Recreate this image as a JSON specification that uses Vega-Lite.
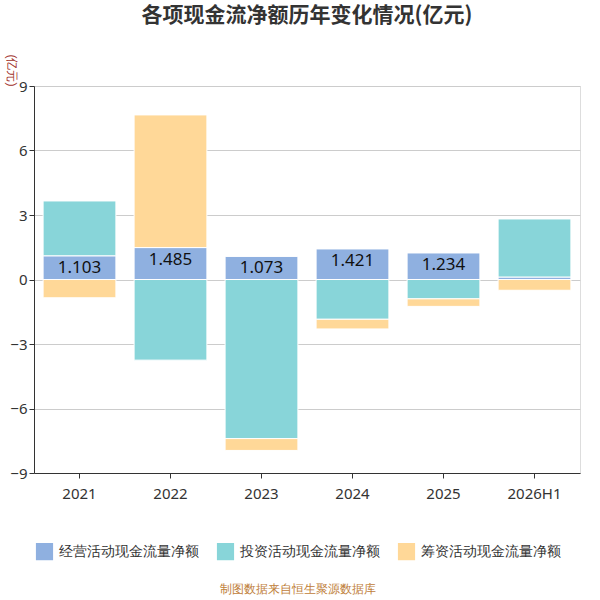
{
"$schema":"https://vega.github.io/schema/vega-lite/v6.json",
"width":600,"height":600,
"autosize":{"type":"fit","contains":"padding"},
"padding":{"top":5,"left":5,"right":20,"bottom":5},
"title":{"text":"各项现金流净额历年变化情况(亿元)","fontSize":21,"font":"Noto Sans CJK SC","fontWeight":"bold","color":"#333","offset":28},
"data":{"values":[
{"year":"2021","type":"经营活动现金流量净额","o":1,"v":1.103,"lab":"1.103"},
{"year":"2021","type":"投资活动现金流量净额","o":2,"v":2.55},
{"year":"2021","type":"筹资活动现金流量净额","o":3,"v":-0.85},
{"year":"2022","type":"经营活动现金流量净额","o":1,"v":1.485,"lab":"1.485"},
{"year":"2022","type":"投资活动现金流量净额","o":2,"v":-3.75},
{"year":"2022","type":"筹资活动现金流量净额","o":3,"v":6.17},
{"year":"2023","type":"经营活动现金流量净额","o":1,"v":1.073,"lab":"1.073"},
{"year":"2023","type":"投资活动现金流量净额","o":2,"v":-7.4},
{"year":"2023","type":"筹资活动现金流量净额","o":3,"v":-0.55},
{"year":"2024","type":"经营活动现金流量净额","o":1,"v":1.421,"lab":"1.421"},
{"year":"2024","type":"投资活动现金流量净额","o":2,"v":-1.85},
{"year":"2024","type":"筹资活动现金流量净额","o":3,"v":-0.45},
{"year":"2025","type":"经营活动现金流量净额","o":1,"v":1.234,"lab":"1.234"},
{"year":"2025","type":"投资活动现金流量净额","o":2,"v":-0.9},
{"year":"2025","type":"筹资活动现金流量净额","o":3,"v":-0.35},
{"year":"2026H1","type":"经营活动现金流量净额","o":1,"v":0.116},
{"year":"2026H1","type":"投资活动现金流量净额","o":2,"v":2.7},
{"year":"2026H1","type":"筹资活动现金流量净额","o":3,"v":-0.5}
]},
"encoding":{
"x":{"field":"year","type":"nominal","scale":{"paddingInner":0.2,"paddingOuter":0.1},"axis":{"title":null,"labelAngle":0,"labelFontSize":15,"labelColor":"#333","labelFont":"Noto Sans","domainColor":"#333","tickColor":"#333","labelPadding":8}},
"y":{"field":"v","type":"quantitative","stack":"zero","scale":{"domain":[-9,9]},"axis":{"values":[-9,-6,-3,0,3,6,9],"title":"(亿元)","titleColor":"#a0302a","titleFontSize":12,"titleFontWeight":"normal","titleAngle":90,"titleAnchor":"end","titlePadding":5,"labelFontSize":15,"labelColor":"#333","labelFont":"Noto Sans","domainColor":"#333","tickColor":"#333","gridColor":"#ccc"}},
"order":{"field":"o"}
},
"layer":[
{"mark":{"type":"bar","stroke":"white","strokeWidth":1},
"encoding":{"color":{"field":"type","type":"nominal","sort":["经营活动现金流量净额","投资活动现金流量净额","筹资活动现金流量净额"],
"scale":{"domain":["经营活动现金流量净额","投资活动现金流量净额","筹资活动现金流量净额"],"range":["#8fb0e0","#88d5d9","#ffd898"]},
"legend":{"orient":"bottom","direction":"horizontal","title":"制图数据来自恒生聚源数据库","titleOrient":"bottom","titleColor":"#c0803a","titleFontSize":12,"titleFontWeight":"normal","titleAnchor":"middle","titlePadding":20,"symbolType":"square","symbolSize":350,"labelFontSize":14,"labelColor":"#333","labelLimit":160,"columnPadding":14,"offset":40}}}},
{"transform":[{"filter":"datum.lab"}],"mark":{"type":"text","fontSize":17,"color":"#111","font":"Noto Sans","dy":12},
"encoding":{"y":{"field":"v","type":"quantitative","stack":"zero"},"text":{"field":"lab"}}}
]
}
